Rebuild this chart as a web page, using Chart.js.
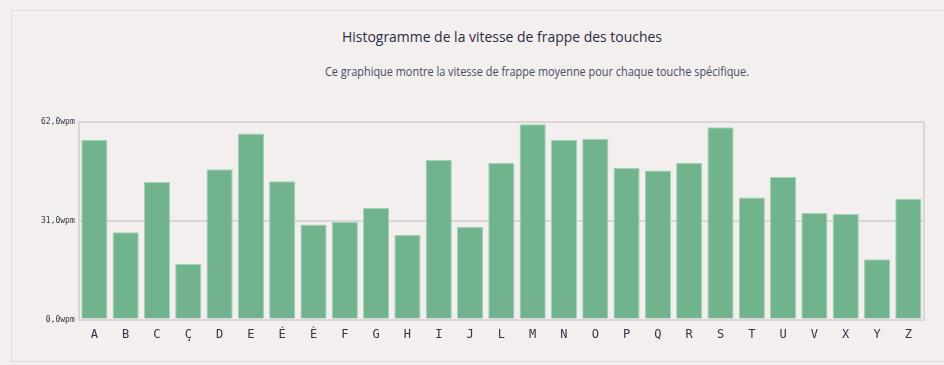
<!DOCTYPE html>
<html lang="fr">
<head>
<meta charset="utf-8">
<title>Histogramme de la vitesse de frappe des touches</title>
<script src="https://cdn.jsdelivr.net/npm/chart.js@4/dist/chart.umd.min.js"></script>
<style>
  html, body { margin: 0; padding: 0; background: #f3efee; overflow: hidden; }
  body { width: 944px; height: 365px; position: relative; font-family: "Open Sans", sans-serif; }
  .card {
    position: absolute; left: 11px; top: 10px; width: 990px; height: 350px;
    border: 1px solid #e2dcdb; background: #f3efee;
  }
  .title {
    position: absolute; top: 15px; left: 0; width: 980px; text-align: center;
    font-size: 15px; color: #2b2b42; margin: 0; font-weight: 400;
    transform: scaleX(0.93); transform-origin: center;
  }
  .subtitle {
    position: absolute; top: 51px; left: 0; width: 1050px; text-align: center;
    font-size: 13px; color: #4a4a60; margin: 0;
    transform: scaleX(0.84); transform-origin: center;
  }
  .chart-box { position: absolute; left: 25px; top: 102px; width: 891px; height: 229px; }
</style>
</head>
<body>
<div class="card">
  <h2 class="title">Histogramme de la vitesse de frappe des touches</h2>
  <p class="subtitle">Ce graphique montre la vitesse de frappe moyenne pour chaque touche spécifique.</p>
  <div class="chart-box"><canvas id="keyChart"></canvas></div>
</div>
<script>
// Données
const touches = ['A', 'B', 'C', 'Ç', 'D', 'E', 'É', 'È', 'F', 'G', 'H', 'I', 'J', 'L', 'M',
                 'N', 'O', 'P', 'Q', 'R', 'S', 'T', 'U', 'V', 'X', 'Y', 'Z'];
const vitesses = [56.3, 27.4, 43.1, 17.4, 47.1, 58.3, 43.4, 29.8, 30.6, 35.0, 26.5, 50.0, 29.0, 49.1, 61.2,
                  56.3, 56.7, 47.5, 46.7, 49.1, 60.3, 38.3, 44.7, 33.4, 33.1, 18.9, 37.8];
const graduations = [0, 31, 62];

// Bord droit de la zone de tracé
const cadre = {
  id: 'cadre',
  afterDraw(chart) {
    const { ctx, chartArea } = chart;
    ctx.save();
    ctx.strokeStyle = '#ddd5d5';
    ctx.lineWidth = 2;
    ctx.beginPath();
    ctx.moveTo(chartArea.right, chartArea.top);
    ctx.lineTo(chartArea.right, chartArea.bottom);
    ctx.stroke();
    ctx.restore();
  }
};

new Chart(document.getElementById('keyChart'), {
  type: 'bar',
  data: {
    labels: touches,
    datasets: [{
      label: 'Vitesse (wpm)',
      data: vitesses,
      backgroundColor: '#70b38c',
      borderColor: '#a3d3b5',
      borderWidth: 1,
      categoryPercentage: 0.9,
      barPercentage: 0.93
    }]
  },
  options: {
    responsive: true,
    maintainAspectRatio: false,
    animation: false,
    layout: { padding: { left: 0, right: 4, top: 8, bottom: 0 } },
    plugins: {
      legend: { display: false },
      tooltip: { enabled: false }
    },
    scales: {
      x: {
        grid: { display: false },
        border: { color: '#ddd5d5', width: 2 },
        ticks: { color: '#333344', font: { family: 'DejaVu Sans Mono', size: 12 }, padding: 0 }
      },
      y: {
        min: graduations[0],
        max: graduations[graduations.length - 1],
        afterBuildTicks(axis) { axis.ticks = graduations.map(v => ({ value: v })); },
        grid: { color: '#ddd5d5', lineWidth: 2, drawTicks: false },
        border: { color: '#ddd5d5', width: 2 },
        ticks: {
          color: '#333344',
          padding: 4,
          font: { family: 'DejaVu Sans Mono', size: 8 },
          callback: v => v.toFixed(1).replace('.', ',') + 'wpm'
        }
      }
    }
  },
  plugins: [cadre]
});
</script>
</body>
</html>
